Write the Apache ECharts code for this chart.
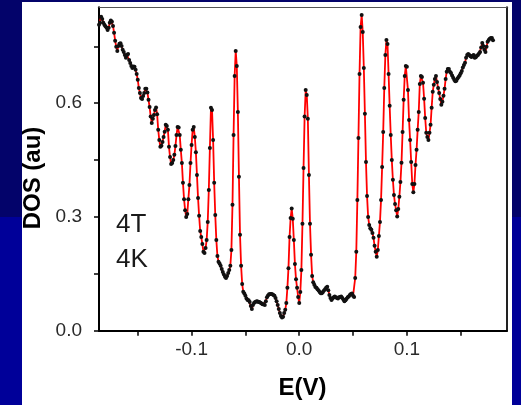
<!DOCTYPE html>
<html>
<head>
<meta charset="utf-8">
<script src="https://cdn.jsdelivr.net/npm/echarts@6/dist/echarts.min.js"></script>
<style>
  html, body { margin: 0; padding: 0; }
  body {
    width: 521px; height: 405px; overflow: hidden; position: relative;
    background: linear-gradient(to bottom, #03036a 0px, #03036a 217px, #000099 217px, #000099 405px);
  }
  #panel { position: absolute; left: 22px; top: 2px; width: 490px; height: 403px; background: #ffffff; }
  #chart { position: absolute; left: 0; top: 0; width: 521px; height: 405px; }
</style>
</head>
<body>
<div id="panel"></div>
<div id="chart"></div>
<script>
// Tunneling density of states vs. bias energy, 4 T field at 4 K
const E_START = -0.186;   // V
const E_STEP = 0.001;     // V per sample
const dos = [
  0.807,0.812,0.828,0.822,0.812,0.807,0.803,0.799,0.793,0.799,
  0.812,0.818,0.815,0.804,0.786,0.765,0.749,0.738,0.751,0.757,
  0.758,0.751,0.741,0.735,0.727,0.720,0.727,0.730,0.714,0.706,
  0.698,0.693,0.697,0.696,0.688,0.677,0.662,0.640,0.627,0.614,
  0.611,0.619,0.627,0.638,0.638,0.628,0.609,0.590,0.565,0.548,
  0.559,0.569,0.582,0.589,0.571,0.530,0.503,0.485,0.488,0.498,
  0.511,0.525,0.543,0.540,0.530,0.485,0.458,0.440,0.442,0.450,
  0.464,0.487,0.516,0.537,0.536,0.516,0.477,0.442,0.390,0.347,
  0.318,0.300,0.308,0.347,0.384,0.442,0.490,0.530,0.537,0.511,
  0.471,0.411,0.350,0.303,0.263,0.247,0.229,0.208,0.205,0.218,
  0.239,0.287,0.371,0.482,0.588,0.582,0.503,0.390,0.305,0.239,
  0.197,0.182,0.177,0.171,0.163,0.155,0.148,0.142,0.139,0.144,
  0.152,0.160,0.171,0.213,0.332,0.516,0.672,0.738,0.698,0.577,
  0.406,0.253,0.171,0.123,0.103,0.098,0.092,0.085,0.081,0.080,
  0.076,0.065,0.057,0.068,0.073,0.076,0.077,0.078,0.076,0.076,
  0.074,0.072,0.070,0.070,0.068,0.078,0.088,0.093,0.096,0.097,
  0.097,0.096,0.094,0.092,0.086,0.078,0.068,0.057,0.047,0.039,
  0.035,0.037,0.047,0.055,0.073,0.113,0.165,0.247,0.297,0.322,
  0.295,0.239,0.176,0.136,0.113,0.089,0.073,0.102,0.160,0.282,
  0.429,0.565,0.635,0.622,0.559,0.411,0.282,0.200,0.144,0.128,
  0.121,0.115,0.113,0.109,0.106,0.102,0.099,0.099,0.102,0.106,
  0.109,0.113,0.116,0.107,0.094,0.086,0.081,0.085,0.088,0.090,
  0.088,0.086,0.085,0.088,0.089,0.090,0.086,0.082,0.078,0.080,
  0.084,0.088,0.090,0.094,0.097,0.098,0.092,0.089,0.139,0.208,
  0.345,0.508,0.677,0.801,0.833,0.788,0.693,0.572,0.445,0.355,
  0.300,0.279,0.270,0.266,0.258,0.245,0.224,0.208,0.195,0.213,
  0.250,0.287,0.345,0.432,0.524,0.640,0.727,0.767,0.756,0.677,
  0.593,0.516,0.450,0.398,0.358,0.334,0.318,0.301,0.321,0.353,
  0.392,0.443,0.524,0.609,0.672,0.698,0.696,0.635,0.556,0.503,
  0.445,0.387,0.365,0.387,0.437,0.477,0.530,0.577,0.651,0.672,
  0.669,0.654,0.612,0.561,0.522,0.511,0.503,0.522,0.543,0.588,
  0.630,0.649,0.664,0.672,0.656,0.640,0.627,0.611,0.596,0.604,
  0.620,0.638,0.664,0.683,0.690,0.690,0.683,0.680,0.673,0.667,
  0.662,0.658,0.659,0.665,0.669,0.673,0.679,0.685,0.694,0.701,
  0.707,0.720,0.727,0.730,0.727,0.724,0.722,0.725,0.727,0.720,
  0.721,0.725,0.727,0.731,0.735,0.747,0.759,0.751,0.741,0.735,
  0.749,0.762,0.767,0.770,0.772,0.772,0.766
];
const xTicks = [-0.15, -0.1, -0.05, 0, 0.05, 0.1, 0.15];
const xTickLabels = [-0.1, 0, 0.1];
const yTicks = [0, 0.15, 0.3, 0.45, 0.6, 0.75];
const yTickLabels = [0, 0.3, 0.6];
const fieldLabel = '4T';
const tempLabel = '4K';

const points = dos.map((v, i) => [+(E_START + i * E_STEP).toFixed(4), v]);

const FONT = "'Liberation Sans', Arial, Helvetica, sans-serif";
const chart = echarts.init(document.getElementById('chart'), null, { renderer: 'canvas' });

const hidden = { show: false };
chart.setOption({
  animation: false,
  backgroundColor: 'transparent',
  grid: { left: 99, top: 7.3, width: 408, height: 323.4, containLabel: false },
  xAxis: [
    {
      type: 'value', position: 'bottom', min: -0.186, max: 0.193,
      axisLine: { show: true, onZero: false, lineStyle: { color: '#000', width: 2 } },
      axisTick: { show: true, inside: false, length: 5, customValues: xTicks, lineStyle: { color: '#000', width: 1.5 } },
      axisLabel: { show: true, customValues: xTickLabels, margin: 10, color: '#2a2a2a', fontSize: 19, fontFamily: FONT,
        formatter: v => v.toFixed(1) },
      splitLine: hidden
    },
    {
      type: 'value', position: 'top', min: -0.186, max: 0.193,
      axisLine: { show: true, onZero: false, lineStyle: { color: '#555', width: 1 } },
      axisTick: hidden, axisLabel: hidden, splitLine: hidden
    }
  ],
  yAxis: [
    {
      type: 'value', position: 'left', min: 0, max: 0.853,
      axisLine: { show: true, onZero: false, lineStyle: { color: '#000', width: 2 } },
      axisTick: { show: true, inside: false, length: 5, customValues: yTicks, lineStyle: { color: '#000', width: 1.5 } },
      axisLabel: { show: true, customValues: yTickLabels, margin: 17, color: '#2a2a2a', fontSize: 19, fontFamily: FONT,
        formatter: v => v.toFixed(1) },
      splitLine: hidden
    },
    {
      type: 'value', position: 'right', min: 0, max: 0.853,
      axisLine: { show: true, onZero: false, lineStyle: { color: '#222', width: 2 } },
      axisTick: hidden, axisLabel: hidden, splitLine: hidden
    }
  ],
  series: [{
    type: 'line',
    xAxisIndex: 0, yAxisIndex: 0,
    data: points,
    showAllSymbol: true,
    symbol: 'circle',
    symbolSize: 4,
    itemStyle: { color: '#111' },
    lineStyle: { color: '#ff0000', width: 1.8 },
    emphasis: { disabled: true },
    z: 3
  }],
  graphic: [
    { type: 'text', style: { text: 'DOS (au)', x: 33, y: 178, font: "bold 24px " + FONT, fill: '#000',
        textAlign: 'center', textVerticalAlign: 'middle' }, rotation: Math.PI / 2, x: 0, y: 0, originX: 33, originY: 178 },
    { type: 'text', style: { text: 'E(V)', x: 302.5, y: 388, font: "bold 24px " + FONT, fill: '#000',
        textAlign: 'center', textVerticalAlign: 'middle' } },
    { type: 'text', style: { text: fieldLabel, x: 116, y: 225, font: "26px " + FONT, fill: '#1a1a1a',
        textAlign: 'left', textVerticalAlign: 'middle' } },
    { type: 'text', style: { text: tempLabel, x: 116, y: 260, font: "26px " + FONT, fill: '#1a1a1a',
        textAlign: 'left', textVerticalAlign: 'middle' } }
  ]
});
</script>
</body>
</html>
